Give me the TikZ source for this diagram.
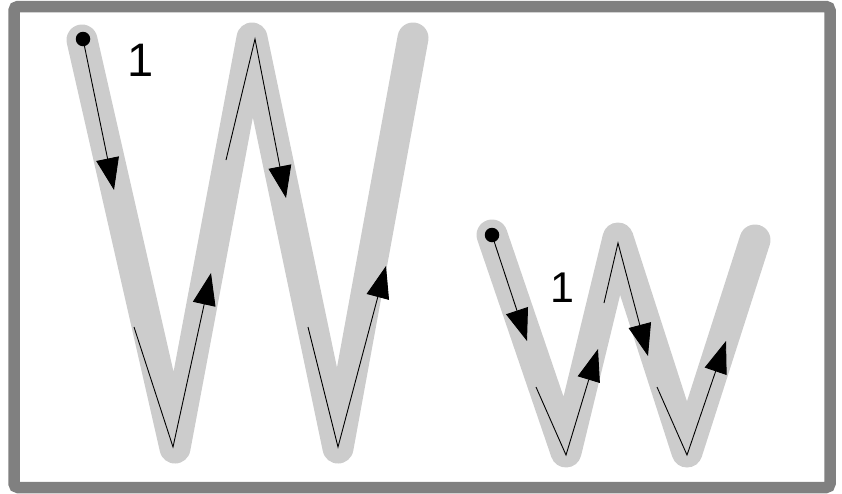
\documentclass[tikz,border=0pt]{standalone}
\usepackage{fontspec}
\setmainfont{Liberation Sans}
\usetikzlibrary{arrows.meta}
\definecolor{framegray}{HTML}{808080}
\definecolor{strokegray}{HTML}{CCCCCC}
\begin{document}
\begin{tikzpicture}[x=1pt,y=-1pt,
  guide/.style={strokegray, line width=31pt, line cap=round, line join=round},
  trace/.style={black, line width=0.9pt, -{Triangle[length=32pt,width=23pt]}},
  startdot/.style={circle, fill=black, inner sep=0pt, minimum size=14.5pt},
  bignum/.style={font=\fontsize{47}{47}\selectfont, inner sep=0pt},
  smallnum/.style={font=\fontsize{43}{43}\selectfont, inner sep=0pt}]
\useasboundingbox (0,0) rectangle (842,493);
\draw[framegray, line width=11.5pt, rounded corners=4pt] (14,6.5) rectangle (830,487.5);

% big W guide stroke
\coordinate (A1) at (82,40);
\coordinate (A2) at (175,448);
\coordinate (A3) at (252,38);
\coordinate (A4) at (338,448);
\coordinate (A5) at (413,38);
\draw[guide] (A1) -- (A2) -- (A3) -- (A4) -- (A5);

% big W traces
\node[startdot] (d1) at (83,39) {};
\coordinate (t1) at (114,190);
\draw[trace] (d1.center) -- (t1);
\coordinate (p1s) at (226,160);
\coordinate (p1) at (255,39);
\coordinate (p1e) at (286,198);
\draw[trace] (p1s) -- (p1) -- (p1e);
\coordinate (v1s) at (134,327);
\coordinate (v1) at (173,447);
\coordinate (v1e) at (211,273);
\draw[trace] (v1s) -- (v1) -- (v1e);
\coordinate (v2s) at (308,327);
\coordinate (v2) at (338,447);
\coordinate (v2e) at (386,266);
\draw[trace] (v2s) -- (v2) -- (v2e);
\node[bignum] (n1) at (141,60) {1};

% small w guide stroke
\coordinate (B1) at (492,235);
\coordinate (B2) at (566,452);
\coordinate (B3) at (618,238);
\coordinate (B4) at (687,452);
\coordinate (B5) at (755,240);
\draw[guide] (B1) -- (B2) -- (B3) -- (B4) -- (B5);

% small w traces
\node[startdot] (d2) at (492,235) {};
\coordinate (t2) at (527,341);
\draw[trace] (d2.center) -- (t2);
\coordinate (w1s) at (536,387);
\coordinate (w1) at (566,455);
\coordinate (w1e) at (598,349);
\draw[trace] (w1s) -- (w1) -- (w1e);
\coordinate (q1s) at (604,303);
\coordinate (q1) at (618,243);
\coordinate (q1e) at (648,356);
\draw[trace] (q1s) -- (q1) -- (q1e);
\coordinate (w2s) at (657,387);
\coordinate (w2) at (687,455);
\coordinate (w2e) at (726,341);
\draw[trace] (w2s) -- (w2) -- (w2e);
\node[smallnum] (n2) at (562,288) {1};
\end{tikzpicture}
\end{document}
